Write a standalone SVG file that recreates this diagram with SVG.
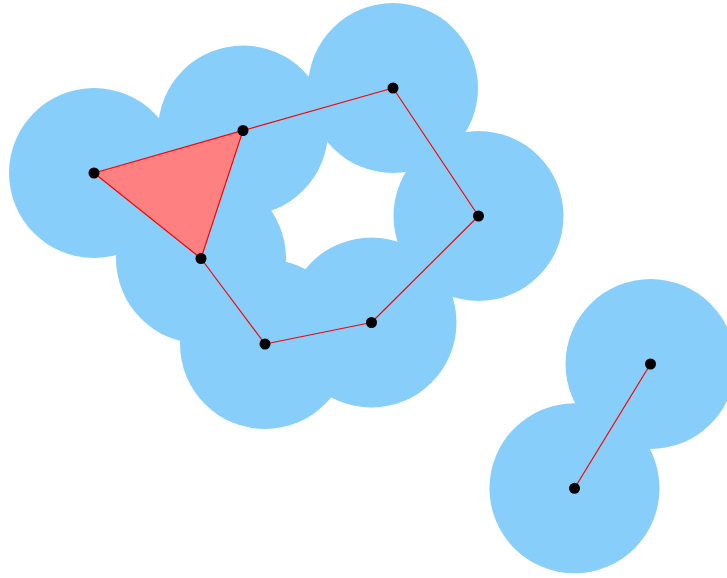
<svg xmlns="http://www.w3.org/2000/svg" width="727" height="578" viewBox="0 0 727 578">
<style>
.ball{fill:#87CEFA;}
.edge{stroke:#FF0000;stroke-width:1.2;fill:none;}
.tri{fill:#FF8080;stroke:#FF0000;stroke-width:1.2;}
.pt{fill:#000;}
</style>
<rect width="727" height="578" fill="#fff"/>
<g id="balls">
<circle class="ball" cx="94" cy="173" r="85"/>
<circle class="ball" cx="243" cy="130.5" r="85"/>
<circle class="ball" cx="393" cy="88" r="85"/>
<circle class="ball" cx="478.5" cy="216" r="85"/>
<circle class="ball" cx="371.5" cy="322.5" r="85"/>
<circle class="ball" cx="265" cy="344" r="85"/>
<circle class="ball" cx="201" cy="258.5" r="85"/>
<circle class="ball" cx="650.5" cy="364" r="85"/>
<circle class="ball" cx="574.5" cy="488.3" r="85"/>
</g>
<g id="connectors">
<polygon class="tri" points="94,173 243,130.5 201,258.5"/>
<line class="edge" x1="243" y1="130.5" x2="393" y2="88"/>
<line class="edge" x1="393" y1="88" x2="478.5" y2="216"/>
<line class="edge" x1="478.5" y1="216" x2="371.5" y2="322.5"/>
<line class="edge" x1="371.5" y1="322.5" x2="265" y2="344"/>
<line class="edge" x1="265" y1="344" x2="201" y2="258.5"/>
<line class="edge" x1="650.5" y1="364" x2="574.5" y2="488.3"/>
</g>
<g id="p1"><circle class="pt" cx="94" cy="173" r="5.5"/></g>
<g id="p2"><circle class="pt" cx="243" cy="130.5" r="5.5"/></g>
<g id="p3"><circle class="pt" cx="393" cy="88" r="5.5"/></g>
<g id="p4"><circle class="pt" cx="478.5" cy="216" r="5.5"/></g>
<g id="p5"><circle class="pt" cx="371.5" cy="322.5" r="5.5"/></g>
<g id="p6"><circle class="pt" cx="265" cy="344" r="5.5"/></g>
<g id="p7"><circle class="pt" cx="201" cy="258.5" r="5.5"/></g>
<g id="p8"><circle class="pt" cx="650.5" cy="364" r="5.5"/></g>
<g id="p9"><circle class="pt" cx="574.5" cy="488.3" r="5.5"/></g>
</svg>
